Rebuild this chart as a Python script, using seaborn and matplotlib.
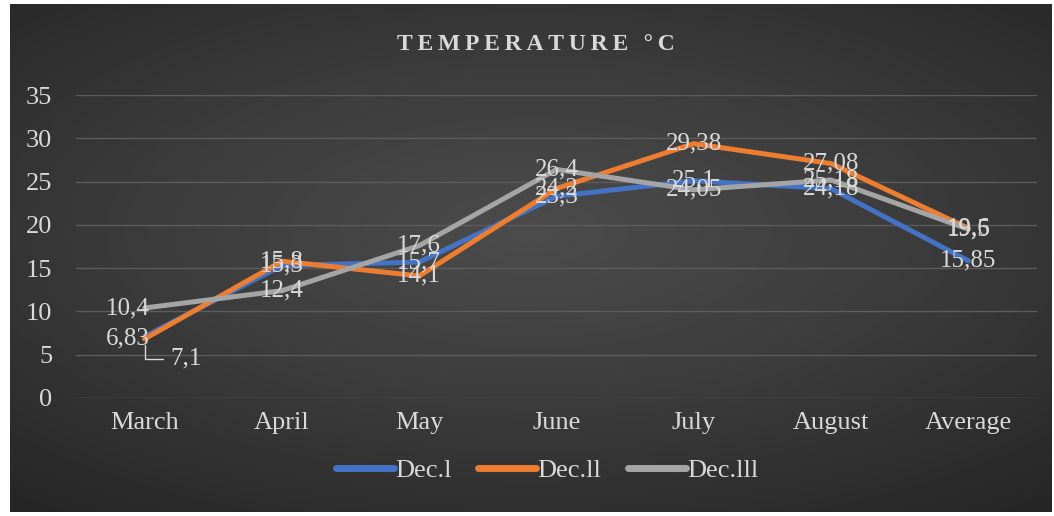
import numpy as np
import pandas as pd
import seaborn as sns
import matplotlib.pyplot as plt

# 데이터
months = ["March", "April", "May", "June", "July", "August", "Average"]
dec1 = [7.1, 15.3, 15.7, 23.3, 25.1, 24.18, 15.85]
dec2 = [6.83, 15.8, 14.1, 24.2, 29.38, 27.08, 19.6]
dec3 = [10.4, 12.4, 17.6, 26.4, 24.05, 25.18, 19.5]
series_names = ["Dec.l", "Dec.ll", "Dec.lll"]
colors = ["#4472C4", "#ED7D31", "#A5A5A5"]

frames = []
for name, vals in zip(series_names, [dec1, dec2, dec3]):
    frames.append(pd.DataFrame({"Month": months, "Temp": vals, "Series": name}))
df = pd.concat(frames, ignore_index=True)

sns.set_theme(style="dark")
plt.rcParams["font.family"] = ["Liberation Serif", "DejaVu Serif"]
txt = "#D9D9D9"

fig = plt.figure(figsize=(10.54, 5.16), dpi=100, facecolor="white")

# 배경 그라데이션
bg = fig.add_axes([10 / 1054, 4 / 516, 1042 / 1054, 508 / 516], zorder=-2)
yy, xx = np.mgrid[-1:1:300j, -1:1:600j]
r = np.sqrt((xx * 0.9) ** 2 + (yy + 0.1) ** 2)
bg.imshow(r, cmap=sns.blend_palette(["#4c4c4c", "#3b3b3b", "#262626"], as_cmap=True),
          aspect="auto", extent=[0, 1, 0, 1], vmin=0, vmax=1.4)
bg.axis("off")

ax = fig.add_axes([76 / 1054, 118 / 516, 961 / 1054, 303 / 516])
ax.set_facecolor("none")

sns.lineplot(data=df, x="Month", y="Temp", hue="Series", palette=colors,
             linewidth=3.6, sort=False, ax=ax, legend=True,
             solid_capstyle="round", solid_joinstyle="round")

ax.set_xlim(-0.5, 6.5)
ax.set_ylim(0, 35)
ax.set_yticks(range(0, 36, 5))
ax.grid(axis="y", color="#5c5c5c", linewidth=1)
ax.grid(axis="x", visible=False)
for s in ax.spines.values():
    s.set_visible(False)
ax.tick_params(axis="both", length=0, labelsize=19, labelcolor=txt)
ax.tick_params(axis="x", pad=10)
ax.tick_params(axis="y", pad=17)
ax.set_xlabel("")
ax.set_ylabel("")

# 데이터 레이블
for vals in [dec1, dec2, dec3]:
    for i, v in enumerate(vals):
        label = f"{v:g}".replace(".", ",")
        if i == 0 and v == 7.1:
            ax.annotate(label, xy=(i, v), xytext=(30, -16), textcoords="offset points",
                        ha="center", va="center", fontsize=18, color=txt,
                        arrowprops=dict(arrowstyle="-", color=txt, lw=1,
                                        connectionstyle="angle,angleA=0,angleB=90,rad=0",
                                        shrinkA=3, shrinkB=6))
        else:
            dx = -0.12 if i == 0 else 0
            ax.text(i + dx, v, label, ha="center", va="center", fontsize=18, color=txt)

# 제목
fig.text(0.508, 1 - 45 / 516, "\u2009".join("TEMPERATURE °C"), ha="center", va="center",
         fontsize=17, fontweight="bold", color=txt)

handles, labels = ax.get_legend_handles_labels()
for h in handles:
    h.set_linewidth(5)
    h.set_solid_capstyle("round")
leg = ax.legend(handles, labels, loc="center", bbox_to_anchor=(0.49, -0.24),
                ncol=3, frameon=False, fontsize=19, labelcolor=txt,
                handlelength=2.2, handletextpad=0.05, columnspacing=1.0)

fig.savefig("out.png", dpi=100, facecolor="white")
